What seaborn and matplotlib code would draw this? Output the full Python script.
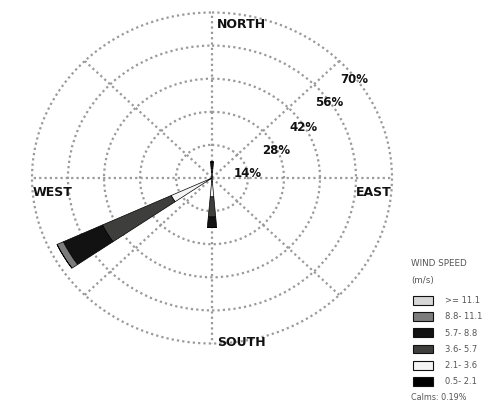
import numpy as np
import pandas as pd
import matplotlib
matplotlib.use("Agg")
import matplotlib.pyplot as plt
from matplotlib.patches import Patch
import seaborn as sns

# ---------------- data ----------------
directions = [0, 180, 240]                      # compass degrees, 10-degree sectors
speed_bins = ["0.5- 2.1", "2.1- 3.6", "3.6- 5.7", "5.7- 8.8", "8.8- 11.1", ">= 11.1"]
freq_north = [1.0, 1.5, 1.5, 2.8, 0.0, 0.0]
freq_south = [1.7, 6.3, 8.5, 4.5, 0.0, 0.0]
freq_wsw = [1.5, 16.0, 29.5, 16.8, 2.7, 0.0]
ring_values = [14, 28, 42, 56, 70]
ring_labels = ["14%", "28%", "42%", "56%", "70%"]
cardinal_labels = ["NORTH", "SOUTH", "WEST", "EAST"]
legend_title = ["WIND SPEED", "(m/s)"]
calms_text = "Calms: 0.19%"

# ---------------- style ----------------
sns.set_theme(style="white")
plt.rcParams["font.family"] = ["DejaVu Sans"]
bin_colors = sns.color_palette(["#000000", "#f4f4f4", "#3e3e3c", "#121212", "#7c7c7c", "#d6d6d6"])

rows = []
for d, vals in zip(directions, [freq_north, freq_south, freq_wsw]):
    for b, v in zip(speed_bins, vals):
        rows.append({"direction": d, "speed": b, "freq": v})
df = pd.DataFrame(rows)
df["bottom"] = df.groupby("direction")["freq"].cumsum() - df["freq"]

W, H = 491, 403
fig = plt.figure(figsize=(W / 100, H / 100), dpi=100, facecolor="white")
cx, cy, rx, ry = 212, 178, 180, 165.5
ax = fig.add_axes([(cx - rx) / W, (H - cy - ry) / H, 2 * rx / W, 2 * ry / H], projection="polar")
ax.set_aspect("auto")
ax.set_theta_zero_location("N")
ax.set_theta_direction(-1)
ax.set_facecolor("white")

for (b, c) in zip(speed_bins, bin_colors):
    sub = df[df["speed"] == b]
    ax.bar(np.deg2rad(sub["direction"].to_numpy()), sub["freq"].to_numpy(),
           width=np.deg2rad(10), bottom=sub["bottom"].to_numpy(),
           color=c, edgecolor="black", linewidth=0.5, zorder=3)

ax.set_ylim(0, ring_values[-1])
ax.set_rgrids(ring_values, labels=[""] * len(ring_values))
ax.set_thetagrids(np.arange(0, 360, 45), labels=[""] * 8)
ax.grid(True, color="#9a9a9a", linestyle=(0, (1, 1.4)), linewidth=1.6)
ax.spines["polar"].set_visible(False)
for gl in ax.yaxis.get_gridlines():
    gl.set_clip_on(False)

# ring labels placed on each ring
label_angles = [82, 65, 59, 55, 53]
for ang, r, lab in zip(label_angles, ring_values, ring_labels):
    ax.text(np.deg2rad(ang), r * 0.99, lab, ha="center", va="center",
            fontsize=8.5, fontweight="bold", color="#111111", zorder=5)

# cardinal labels
card_pos = [(217, 25, "left"), (217, 342, "left"), (33, 192, "left"), (392, 192, "right")]
for (px, py, ha), lab in zip(card_pos, cardinal_labels):
    fig.text(px / W, 1 - py / H, lab, ha=ha, va="center", fontsize=9,
             fontweight="bold", color="#111111")

# legend
fig.text(411 / W, 1 - 264 / H, legend_title[0], ha="left", va="center", fontsize=6.3, color="#555555")
fig.text(411 / W, 1 - 280 / H, legend_title[1], ha="left", va="center", fontsize=6.3, color="#555555")
handles = [Patch(facecolor=c, edgecolor="#111111", linewidth=0.8) for c in bin_colors][::-1]
labels = speed_bins[::-1]
leg = fig.legend(handles, labels, loc="upper left",
                 bbox_to_anchor=(413 / W, 1 - 296 / H), frameon=False,
                 fontsize=6, handlelength=2.4, handleheight=1.25,
                 labelspacing=0.84, handletextpad=1.4, borderpad=0, borderaxespad=0)
for t in leg.get_texts():
    t.set_color("#555555")
fig.text(411 / W, 1 - 397 / H, calms_text, ha="left", va="center", fontsize=5.8, color="#555555")

fig.savefig("out.png", dpi=100, facecolor="white")
